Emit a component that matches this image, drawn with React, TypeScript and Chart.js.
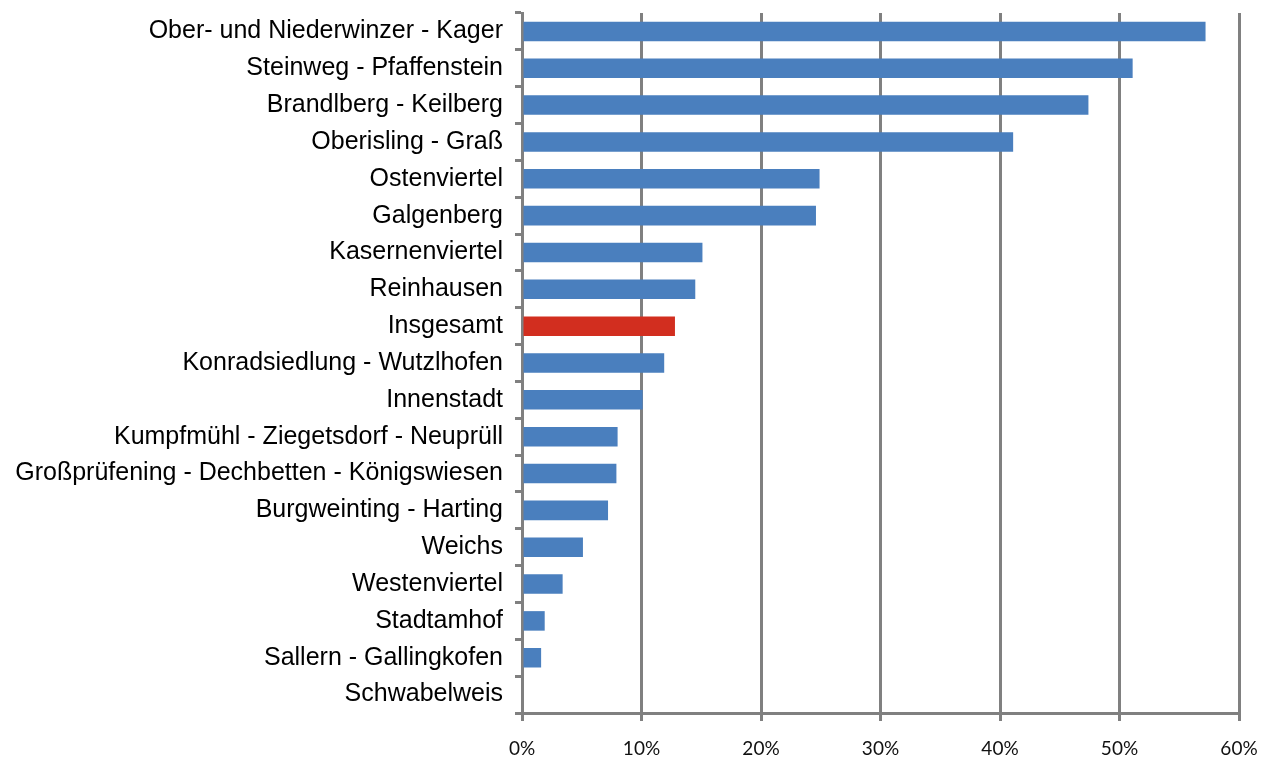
import React, { useEffect, useRef } from "react";
import { Chart, registerables } from "chart.js";

Chart.register(...registerables);

const categories = [
  "Ober- und Niederwinzer - Kager",
  "Steinweg - Pfaffenstein",
  "Brandlberg - Keilberg",
  "Oberisling - Graß",
  "Ostenviertel",
  "Galgenberg",
  "Kasernenviertel",
  "Reinhausen",
  "Insgesamt",
  "Konradsiedlung - Wutzlhofen",
  "Innenstadt",
  "Kumpfmühl - Ziegetsdorf - Neuprüll",
  "Großprüfening - Dechbetten - Königswiesen",
  "Burgweinting - Harting",
  "Weichs",
  "Westenviertel",
  "Stadtamhof",
  "Sallern - Gallingkofen",
  "Schwabelweis",
];

const values = [57.2, 51.1, 47.4, 41.1, 24.9, 24.6, 15.1, 14.5, 12.8, 11.9, 10.1, 8.0, 7.9, 7.2, 5.1, 3.4, 1.9, 1.6, 0];

const xTicks = [0, 10, 20, 30, 40, 50, 60];

const BLUE = "#4a7fbe";
const RED = "#d22e1f";
const GRAY = "#808080";

export default function App() {
  const ref = useRef<HTMLCanvasElement | null>(null);

  useEffect(() => {
    document.body.style.margin = "0";
    const ctx = ref.current!;
    const chart = new Chart(ctx, {
      type: "bar",
      data: {
        labels: categories,
        datasets: [
          {
            data: values,
            backgroundColor: categories.map((c) => (c === "Insgesamt" ? RED : BLUE)),
            barPercentage: 0.53,
            categoryPercentage: 1,
          },
        ],
      },
      options: {
        indexAxis: "y",
        animation: false,
        responsive: false,
        maintainAspectRatio: false,
        layout: { padding: { top: 13, right: 35, left: 0, bottom: 0 } },
        plugins: { legend: { display: false }, tooltip: { enabled: false } },
        scales: {
          x: {
            type: "linear",
            min: 0,
            max: 60,
            afterFit: (s: any) => {
              s.height = 46;
              s.paddingLeft = 0;
              s.paddingRight = 0;
            },
            afterBuildTicks: (s: any) => {
              s.ticks = xTicks.map((v) => ({ value: v }));
            },
            grid: {
              color: GRAY,
              lineWidth: 3,
              drawTicks: true,
              tickLength: 8,
              tickColor: GRAY,
            },
            border: { color: GRAY, width: 3 },
            ticks: {
              padding: 16,
              color: "#111",
              font: { family: "Lato", size: 19 },
              callback: (v: any) => v + "%",
              maxRotation: 0,
            },
          },
          y: {
            type: "category",
            offset: true,
            afterFit: (s: any) => {
              s.width = 522;
              s.paddingTop = 0;
              s.paddingBottom = 0;
            },
            grid: {
              offset: true,
              drawOnChartArea: false,
              drawTicks: true,
              tickLength: 7,
              color: GRAY,
              lineWidth: 3,
            },
            border: { color: GRAY, width: 3 },
            ticks: {
              padding: 12,
              color: "#000",
              font: { family: "Liberation Sans", size: 25 },
              autoSkip: false,
            },
          },
        },
      },
    });
    return () => chart.destroy();
  }, []);

  return <canvas ref={ref} width={1274} height={759} style={{ display: "block" }} />;
}
